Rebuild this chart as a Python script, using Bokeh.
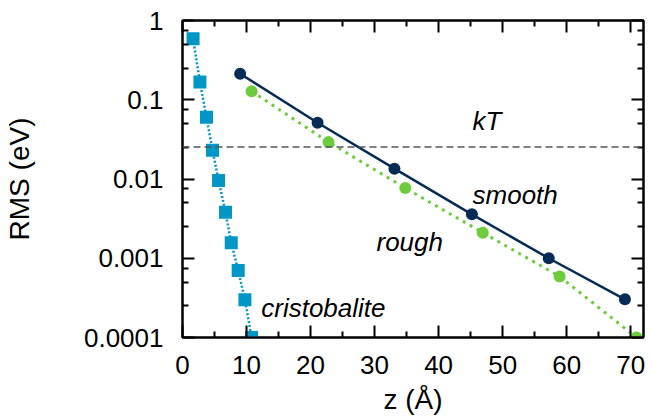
from bokeh.plotting import figure
from bokeh.models import (FixedTicker, LinearAxis, LogAxis, Span, CustomJSTickFormatter,
                          Range1d, ColumnDataSource)
from bokeh.core.properties import value
from bokeh.embed import file_html
from bokeh.resources import INLINE

# ---------------- data ----------------
cristo_z = [1.65, 2.72, 3.75, 4.69, 5.63, 6.72, 7.61, 8.70, 9.75, 10.78]
cristo_rms = [0.59, 0.167, 0.060, 0.023, 0.0096, 0.0038, 0.00157, 0.00070, 0.00030, 0.0001]

smooth_z = [9.0, 21.1, 33.1, 45.2, 57.2, 69.1]
smooth_rms = [0.213, 0.0513, 0.0135, 0.00358, 0.00100, 0.000303]

rough_z = [10.8, 22.8, 34.8, 46.9, 58.9, 70.9]
rough_rms = [0.128, 0.0292, 0.0077, 0.0021, 0.00059, 0.0001]

kT = 0.0254

label_text = ["kT", "smooth", "rough", "cristobalite"]
label_z = [45.3, 45.3, 30.3, 12.3]
label_rms = [0.0532, 0.0062, 0.00159, 0.000238]

x_title = "z (Å)"
y_title = "RMS (eV)"

x_tick_vals = [0, 10, 20, 30, 40, 50, 60, 70]
x_minor_vals = [5, 15, 25, 35, 45, 55, 65]
y_tick_vals = [0.0001, 0.001, 0.01, 0.1, 1]
y_tick_labels = ["0.0001", "0.001", "0.01", "0.1", "1"]
y_minor_vals = [m * d for d in [0.0001, 0.001, 0.01, 0.1] for m in (2.5, 5.0, 7.5)]

# ---------------- styles ----------------
FONT = "Liberation Sans"
C_CRISTO = "#0096C6"
C_SMOOTH = "#062B55"
C_ROUGH = "#6CCC3C"

p = figure(width=652, height=417, output_backend="svg", toolbar_location=None,
           y_axis_type="log", x_range=Range1d(0, 72), y_range=Range1d(0.0001, 1),
           min_border_left=181, min_border_right=9, min_border_top=20, min_border_bottom=80)
p.xgrid.visible = False
p.ygrid.visible = False
p.outline_line_color = "black"
p.outline_line_width = 2
p.background_fill_color = "white"
p.border_fill_color = "white"

xt = FixedTicker(ticks=x_tick_vals, minor_ticks=x_minor_vals)
yt = FixedTicker(ticks=y_tick_vals, minor_ticks=y_minor_vals)
yfmt = CustomJSTickFormatter(args=dict(vals=y_tick_vals, labels=y_tick_labels), code="""
const i = vals.findIndex(v => Math.abs(Math.log10(v) - Math.log10(tick)) < 1e-6);
return i >= 0 ? labels[i] : '';
""")
blank = CustomJSTickFormatter(code="return '';")

def style_axis(ax):
    ax.axis_line_color = "black"
    ax.axis_line_width = 2
    ax.major_tick_in = 12
    ax.major_tick_out = 0
    ax.minor_tick_in = 6
    ax.minor_tick_out = 0
    ax.major_tick_line_width = 2
    ax.minor_tick_line_width = 2
    ax.major_tick_line_color = "black"
    ax.minor_tick_line_color = "black"
    ax.major_label_text_font = FONT
    ax.major_label_text_font_size = "26px"
    ax.major_label_text_color = "black"
    ax.axis_label_text_font = FONT
    ax.axis_label_text_font_size = "28px"
    ax.axis_label_text_font_style = "normal"
    ax.axis_label_text_color = "black"

xa = p.xaxis[0]
xa.ticker = xt
style_axis(xa)
xa.axis_label = x_title
xa.major_label_standoff = 18
xa.axis_label_standoff = 7

ya = p.yaxis[0]
ya.ticker = yt
ya.formatter = yfmt
style_axis(ya)
ya.axis_label = y_title
ya.major_label_standoff = 19
ya.axis_label_standoff = 46

top = LinearAxis(ticker=xt, formatter=blank)
style_axis(top)
top.major_label_text_font_size = "1px"
top.major_label_standoff = 0
p.add_layout(top, "above")

right = LogAxis(ticker=yt, formatter=blank)
style_axis(right)
right.major_label_text_font_size = "1px"
right.major_label_standoff = 0
p.add_layout(right, "right")

p.add_layout(Span(location=kT, dimension="width", line_color="#555555",
                  line_width=1.5, line_dash="7 4"))

p.line(cristo_z, cristo_rms, line_color=C_CRISTO, line_width=2.5, line_dash="2 2")
p.line(rough_z, rough_rms, line_color=C_ROUGH, line_width=3, line_dash="3 5")
p.line(smooth_z, smooth_rms, line_color=C_SMOOTH, line_width=2.5)

p.scatter(cristo_z, cristo_rms, marker="square", size=13, fill_color=C_CRISTO, line_color=None)
p.scatter(rough_z, rough_rms, marker="circle", size=12, fill_color=C_ROUGH, line_color=None)
p.scatter(smooth_z, smooth_rms, marker="circle", size=12, fill_color=C_SMOOTH, line_color=None)

src = ColumnDataSource(dict(x=label_z, y=label_rms, t=label_text))
p.text(x="x", y="y", text="t", source=src, text_font=value(FONT), text_font_size="26px",
       text_font_style="italic", text_align="left", text_baseline="alphabetic", text_color="black")

open("out.html", "w").write(file_html(p, INLINE))
